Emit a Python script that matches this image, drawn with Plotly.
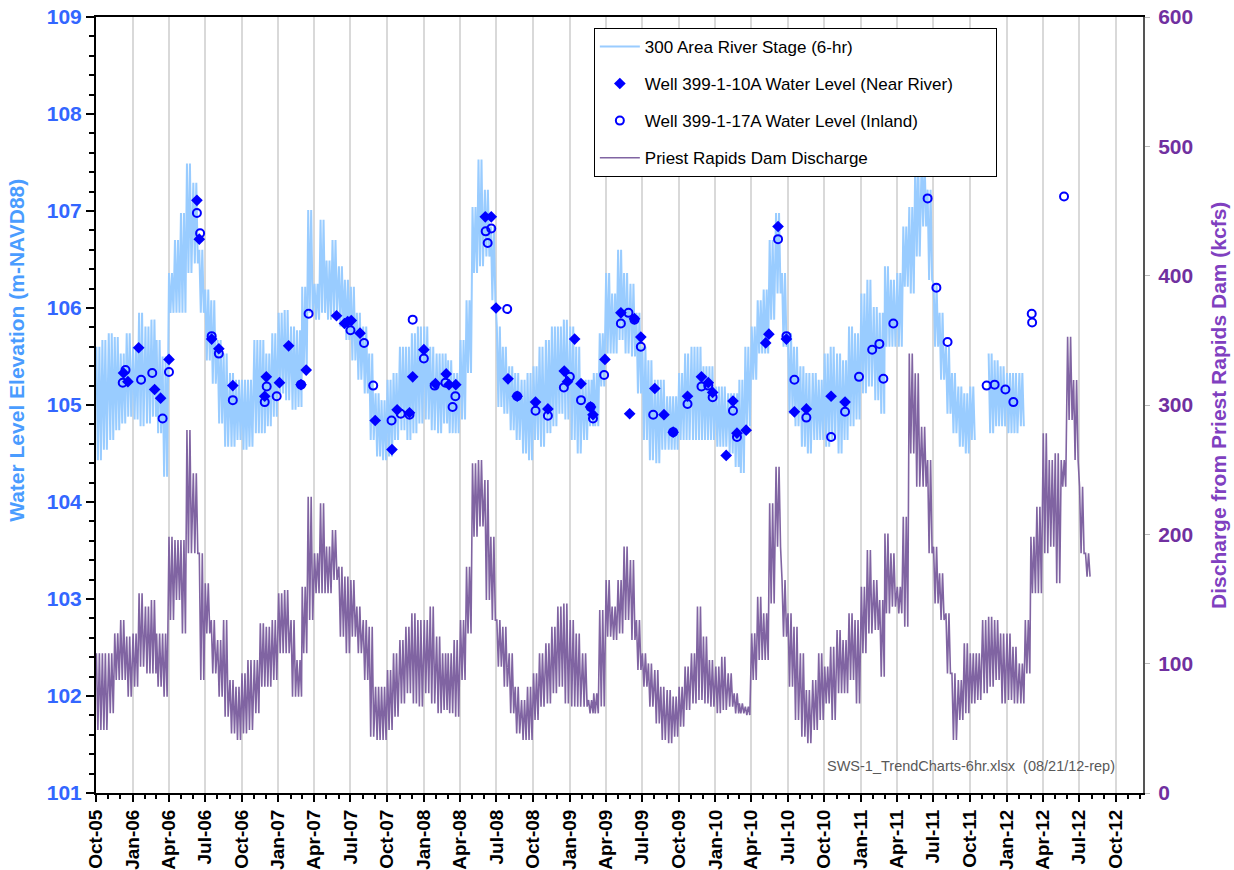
import pandas as pd
import plotly.graph_objects as go

# ---------------------------------------------------------------------------
# Data
# River stage and dam discharge are given as half-month envelopes (upper and
# lower values reached within each half month), starting October 2005.
# ---------------------------------------------------------------------------
stage_hi = [
    105.60, 105.67, 105.74, 105.70, 105.53, 105.74,
    105.60, 105.95, 105.81, 105.88, 105.67, 105.50, 106.36, 106.70, 106.98, 107.49, 107.29, 106.60,
    106.19, 106.08, 105.67, 105.53, 105.33, 105.26, 105.26, 105.26, 105.67, 105.67, 105.53, 105.74,
    105.95, 105.98, 105.81, 105.77, 106.22, 107.01, 106.25, 106.91, 106.49, 106.70, 106.43, 106.29,
    106.22, 105.95, 105.81, 105.53, 105.12, 105.05, 105.26, 105.33, 105.60, 105.60, 105.74, 105.81,
    105.81, 105.60, 105.53, 105.53, 105.46, 105.33, 105.67, 106.08, 107.04, 107.53, 107.22, 106.84,
    105.81, 105.60, 105.40, 105.33, 105.26, 105.33, 105.40, 105.60, 105.67, 105.81, 105.81, 105.88,
    105.81, 105.60, 105.26, 105.26, 105.33, 105.74, 106.36, 106.15, 106.60, 106.36, 106.25, 105.95,
    105.60, 105.46, 105.26, 105.26, 105.09, 105.09, 105.33, 105.53, 105.60, 105.60, 105.40, 105.40,
    105.19, 105.19, 105.12, 105.12, 105.26, 105.60, 105.81, 106.08, 106.19, 106.70, 106.98, 106.36,
    105.74, 105.60, 105.40, 105.33, 105.33, 105.26, 105.53, 105.60, 105.53, 105.46, 105.81, 105.74,
    106.15, 106.29, 106.01, 105.95, 106.43, 106.29, 106.36, 106.84, 107.04, 107.53, 107.53, 107.22,
    106.25, 105.95, 105.60, 105.33, 105.19, 105.12, 105.19, None, None, 105.53, 105.46, 105.40,
    105.33, 105.33, 105.33,
]
stage_lo = [
    104.43, 104.54, 104.64, 104.74, 104.81, 104.88,
    104.85, 104.78, 104.81, 104.88, 104.71, 104.26, 105.95, 105.95, 105.95, 106.36, 106.46, 105.95,
    105.46, 105.22, 104.81, 104.57, 104.57, 104.64, 104.54, 104.57, 104.71, 104.71, 104.78, 104.88,
    105.12, 105.05, 104.95, 104.98, 105.33, 105.95, 105.88, 105.95, 105.88, 105.95, 105.81, 105.67,
    105.46, 105.26, 105.12, 104.64, 104.47, 104.43, 104.47, 104.64, 104.74, 104.64, 104.71, 104.81,
    104.85, 104.74, 104.71, 104.81, 104.71, 104.71, 104.85, 105.33, 106.36, 106.43, 106.53, 106.08,
    104.98, 104.91, 104.74, 104.64, 104.50, 104.43, 104.64, 104.57, 104.71, 104.78, 104.91, 104.85,
    104.64, 104.50, 104.64, 104.78, 104.78, 105.19, 105.53, 105.53, 105.67, 105.53, 105.50, 105.12,
    104.64, 104.43, 104.40, 104.54, 104.54, 104.54, 104.64, 104.64, 104.64, 104.64, 104.64, 104.64,
    104.57, 104.57, 104.50, 104.36, 104.30, 104.78, 105.26, 105.53, 105.53, 105.88, 106.15, 105.60,
    104.91, 104.78, 104.57, 104.50, 104.64, 104.64, 104.57, 104.64, 104.50, 104.64, 104.78, 104.85,
    105.12, 105.19, 105.05, 104.91, 105.60, 105.60, 105.60, 106.22, 106.15, 106.53, 106.84, 106.29,
    105.60, 105.26, 104.91, 104.71, 104.57, 104.50, 104.64, None, None, 104.71, 104.78, 104.78,
    104.71, 104.71, 104.78,
]

discharge_hi = [
    108.0, 108.0, 108.0, 123.4, 133.7, 120.9,
    123.4, 154.4, 144.1, 149.2, 123.4, 123.4, 198.2, 195.6, 195.6, 280.7, 247.2, 185.3,
    162.1, 133.7, 118.3, 133.7, 87.4, 82.2, 92.5, 102.8, 102.8, 131.2, 128.6, 133.7,
    154.4, 156.9, 133.7, 102.8, 159.5, 229.1, 185.3, 224.0, 190.5, 203.3, 175.0, 167.3,
    164.7, 144.1, 133.7, 128.6, 82.2, 82.2, 95.1, 108.0, 118.3, 128.6, 138.9, 133.7,
    133.7, 144.1, 120.9, 108.0, 108.0, 118.3, 133.7, 175.0, 254.9, 257.5, 242.0, 198.2,
    133.7, 128.6, 108.0, 82.2, 71.9, 82.2, 92.5, 108.0, 115.7, 128.6, 144.1, 146.6,
    133.7, 123.4, 108.0, 71.9, 77.1, 141.5, 164.7, 144.1, 164.7, 190.5, 180.1, 133.7,
    108.0, 100.2, 95.1, 82.2, 79.6, 74.5, 82.2, 97.7, 108.0, 144.1, 120.9, 102.8,
    97.7, 105.4, 92.5, 77.1, 69.3, 66.8, 123.4, 151.8, 138.9, 224.0, 252.3, 164.7,
    138.9, 128.6, 108.0, 79.6, 87.4, 108.0, 97.7, 113.1, 126.0, 118.3, 138.9, 133.7,
    159.5, 187.9, 164.7, 149.2, 200.7, 185.3, 159.5, 213.6, 339.9, 324.5, 283.2, 257.5,
    190.4, 169.8, 138.9, 92.5, 87.4, 115.7, 108.0, 108.0, 133.7, 136.3, 133.7, 123.4,
    123.4, 113.1, 100.2, 133.7, 198.2, 221.4, 278.1, 257.5, 262.6, 257.5, 352.8, 319.3,
    236.8, 185.3,
]
discharge_lo = [
    48.7, 48.7, 61.6, 87.4, 87.4, 74.5,
    82.2, 97.7, 92.5, 92.5, 82.2, 74.5, 133.7, 149.2, 123.4, 185.3, 185.3, 87.4,
    123.4, 92.5, 74.5, 59.0, 46.1, 41.0, 46.1, 48.7, 61.6, 82.2, 82.2, 87.4,
    108.0, 108.0, 74.5, 74.5, 108.0, 133.7, 154.4, 154.4, 154.4, 164.7, 120.9, 108.0,
    120.9, 108.0, 87.4, 43.5, 41.0, 41.0, 48.7, 59.0, 69.3, 77.1, 69.3, 66.8,
    77.1, 69.3, 61.6, 64.2, 61.6, 59.0, 87.4, 123.4, 198.2, 206.0, 149.2, 133.7,
    97.7, 82.2, 61.6, 46.1, 41.0, 41.0, 56.4, 66.8, 69.3, 77.1, 82.2, 69.3,
    66.8, 66.8, 66.8, 61.6, 61.6, 66.8, 120.9, 118.3, 123.4, 133.7, 118.3, 95.1,
    82.2, 66.8, 53.8, 41.0, 38.4, 43.5, 51.3, 64.2, 69.3, 71.9, 69.3, 66.8,
    61.6, 64.2, 66.8, 61.6, 61.6, 60.3, 87.4, 102.8, 102.8, 146.6, 190.4, 120.9,
    82.2, 56.4, 43.5, 38.4, 48.7, 56.4, 69.3, 56.4, 77.1, 77.1, 87.4, 69.3,
    108.0, 123.4, 126.0, 89.9, 138.9, 144.1, 138.9, 128.6, 262.6, 236.8, 236.8, 185.3,
    146.6, 133.7, 92.5, 41.0, 56.4, 61.6, 69.3, 71.9, 77.1, 82.2, 87.4, 69.3,
    71.9, 69.3, 69.3, 92.5, 154.4, 154.4, 185.3, 190.4, 162.1, 236.8, 288.4, 257.5,
    185.3, 167.3,
]

well_10a_dates = [
    "2005-12-09", "2005-12-20", "2006-01-16", "2006-02-25", "2006-03-12", "2006-04-02",
    "2006-06-11", "2006-06-17", "2006-07-18", "2006-08-05", "2006-09-09", "2006-11-28",
    "2006-12-02", "2007-01-04", "2007-01-27", "2007-02-27", "2007-03-12", "2007-05-27",
    "2007-06-16", "2007-06-24", "2007-07-03", "2007-07-25", "2007-09-01", "2007-10-13",
    "2007-10-26", "2007-11-26", "2007-12-04", "2008-01-01", "2008-01-30", "2008-02-26",
    "2008-03-04", "2008-03-21", "2008-06-03", "2008-06-18", "2008-06-30", "2008-07-30",
    "2008-08-22", "2008-10-07", "2008-11-07", "2008-12-18", "2008-12-26", "2009-01-13",
    "2009-01-29", "2009-02-22", "2009-02-28", "2009-03-30", "2009-05-09", "2009-05-31",
    "2009-06-12", "2009-06-28", "2009-08-02", "2009-08-25", "2009-09-17", "2009-10-23",
    "2009-11-27", "2009-12-14", "2009-12-25", "2010-01-28", "2010-02-14", "2010-02-24",
    "2010-03-19", "2010-05-07", "2010-05-15", "2010-06-07", "2010-06-28", "2010-07-18",
    "2010-08-17", "2010-10-18", "2010-11-22",
]
well_10a_levels = [
    105.33, 105.24, 105.59, 105.16, 105.07, 105.47,
    107.11, 106.71, 105.68, 105.58, 105.20, 105.09,
    105.29, 105.23, 105.61, 105.21, 105.36, 105.92,
    105.84, 105.86, 105.87, 105.74, 104.84, 104.54,
    104.95, 104.92, 105.29, 105.57, 105.22, 105.32,
    105.21, 105.21, 106.94, 106.94, 106.00, 105.27,
    105.09, 105.03, 104.96, 105.35, 105.24, 105.68,
    105.22, 104.98, 104.90, 105.47, 105.95, 104.91,
    105.89, 105.70, 105.17, 104.90, 104.72, 105.09,
    105.29, 105.23, 105.13, 104.48, 105.04, 104.71,
    104.74, 105.64, 105.73, 106.84, 105.68, 104.93,
    104.96, 105.09, 105.03,
]

well_17a_dates = [
    "2005-12-07", "2005-12-14", "2006-01-22", "2006-02-19", "2006-03-17", "2006-04-02",
    "2006-06-11", "2006-06-19", "2006-07-18", "2006-08-05", "2006-09-09", "2006-11-28",
    "2006-12-03", "2006-12-28", "2007-02-27", "2007-03-18", "2007-07-01", "2007-08-04",
    "2007-08-27", "2007-10-12", "2007-11-04", "2007-11-26", "2007-12-04", "2008-01-01",
    "2008-01-28", "2008-02-24", "2008-03-13", "2008-03-20", "2008-06-04", "2008-06-09",
    "2008-06-18", "2008-07-28", "2008-08-22", "2008-10-07", "2008-11-07", "2008-12-17",
    "2009-01-01", "2009-01-29", "2009-02-22", "2009-02-28", "2009-03-28", "2009-05-09",
    "2009-05-28", "2009-06-12", "2009-06-28", "2009-07-29", "2009-09-17", "2009-10-23",
    "2009-11-27", "2009-12-14", "2009-12-25", "2010-02-14", "2010-02-24", "2010-06-07",
    "2010-06-28", "2010-07-18", "2010-08-17", "2010-10-18", "2010-11-22", "2010-12-27",
    "2011-01-29", "2011-02-16", "2011-02-26", "2011-03-23", "2011-06-17", "2011-07-09",
    "2011-08-06", "2011-11-12", "2011-12-02", "2011-12-29", "2012-01-18", "2012-03-04",
    "2012-03-05", "2012-05-24",
]
well_17a_levels = [
    105.23, 105.36, 105.26, 105.33, 104.86, 105.34,
    106.98, 106.77, 105.71, 105.53, 105.05, 105.03,
    105.19, 105.09, 105.21, 105.94, 105.77, 105.64,
    105.20, 104.84, 104.91, 104.90, 105.88, 105.48,
    105.20, 105.23, 104.98, 105.09, 106.79, 106.67,
    106.82, 105.99, 105.09, 104.94, 104.89, 105.18,
    105.29, 105.05, 104.98, 104.86, 105.31, 105.84,
    105.95, 105.88, 105.60, 104.90, 104.72, 105.01,
    105.19, 105.20, 105.08, 104.94, 104.67, 106.71,
    105.71, 105.26, 104.87, 104.67, 104.93, 105.29,
    105.57, 105.63, 105.27, 105.84, 107.13, 106.21,
    105.65, 105.20, 105.21, 105.16, 105.03, 105.94,
    105.85, 107.15,
]

source_note = "SWS-1_TrendCharts-6hr.xlsx  (08/21/12-rep)"
left_title = "Water Level Elevation (m-NAVD88)"
right_title = "Discharge from Priest Rapids Dam (kcfs)"


def half_month_starts(year, month, count):
    """Window start dates: the 1st and the 16th of each month."""
    out = []
    for k in range(count):
        out.append(pd.Timestamp(year=year, month=month, day=1 if k % 2 == 0 else 16))
        if k % 2 == 1:
            month += 1
            if month > 12:
                month, year = 1, year + 1
    return out


# Within each half month the trace swings between the window's upper and
# lower values a few times, which reproduces the dense 6-hour oscillation.
SWING_DAYS = [1.0, 4.75, 8.5, 12.25]


def swing_trace(starts, hi, lo):
    xs, ys = [], []
    for t, h, l in zip(starts, hi, lo):
        if h is None or l is None:
            xs.append(None)
            ys.append(None)
            continue
        for k, d in enumerate(SWING_DAYS):
            xs.append(t + pd.Timedelta(days=d))
            ys.append(h if k % 2 == 0 else l)
    return xs, ys


stage_x, stage_y = swing_trace(half_month_starts(2005, 10, len(stage_hi)), stage_hi, stage_lo)
dis_x, dis_y = swing_trace(half_month_starts(2005, 10, len(discharge_hi)), discharge_hi, discharge_lo)

FONT = "Liberation Sans, Arial, sans-serif"
STAGE_COLOR = "#99ccff"
DISCHARGE_COLOR = "#8064a2"
WELL_COLOR = "#0000ff"
NBSP = "\u00a0"

fig = go.Figure()

fig.add_trace(go.Scatter(
    x=stage_x, y=stage_y, mode="lines", name="300 Area River Stage (6-hr)",
    line=dict(color=STAGE_COLOR, width=2.0), connectgaps=False, legendgroup="a",
))
fig.add_trace(go.Scatter(
    x=well_10a_dates, y=well_10a_levels, mode="markers",
    name="Well 399-1-10A Water Level (Near River)" + NBSP * 8,
    marker=dict(symbol="diamond", size=9, color=WELL_COLOR), legendgroup="b",
))
fig.add_trace(go.Scatter(
    x=well_17a_dates, y=well_17a_levels, mode="markers",
    name="Well 399-1-17A Water Level (Inland)",
    marker=dict(symbol="circle-open", size=8, color=WELL_COLOR, line=dict(width=2, color=WELL_COLOR)),
    legendgroup="c",
))
fig.add_trace(go.Scatter(
    x=dis_x, y=dis_y, mode="lines", name="Priest Rapids Dam Discharge",
    line=dict(color=DISCHARGE_COLOR, width=1.6), connectgaps=False,
    yaxis="y2", legendgroup="d",
))

fig.update_layout(
    width=1234, height=870,
    margin=dict(l=96, r=91, t=17, b=77),
    paper_bgcolor="white", plot_bgcolor="white",
    font=dict(family=FONT, color="black"),
    showlegend=True,
    legend=dict(
        x=0.4755, y=0.986, xanchor="left", yanchor="top",
        bgcolor="white", bordercolor="black", borderwidth=1,
        font=dict(family=FONT, size=17, color="black"),
        tracegroupgap=12, itemwidth=40,
    ),
    xaxis=dict(
        type="date", range=["2005-10-01", "2012-12-08"], automargin=False,
        tick0="2005-10-01", dtick="M3", tickformat="%b-%y", tickangle=-90,
        tickfont=dict(family=FONT, size=19, color="black", weight="bold"),
        ticks="outside", ticklen=7, tickwidth=1.5, tickcolor="black",
        showgrid=True, gridcolor="#d9d9d9", gridwidth=1.5,
        showline=True, linecolor="black", linewidth=2, mirror=True,
        zeroline=False,
        minor=dict(tick0="2005-10-01", dtick="M1", ticks="outside", ticklen=4,
                   tickcolor="black", showgrid=False),
    ),
    yaxis=dict(
        range=[101, 109], dtick=1, tick0=101, automargin=False,
        tickfont=dict(family=FONT, size=21, color="#3366ff", weight="bold"),
        ticks="outside", ticklen=8, tickwidth=2, tickcolor="black",
        showline=True, linecolor="black", linewidth=2,
        showgrid=False, zeroline=False,
        minor=dict(dtick=0.2, ticks="outside", ticklen=5, tickcolor="black"),
    ),
    yaxis2=dict(
        overlaying="y", side="right", range=[0, 600], dtick=100, tick0=0, automargin=False,
        tickfont=dict(family=FONT, size=21, color="#7030a0", weight="bold"),
        ticks="outside", ticklen=5, tickwidth=1, tickcolor="#bbbbbb",
        ticklabelstandoff=4,
        showline=True, linecolor="#555555", linewidth=2,
        showgrid=False, zeroline=False,
    ),
    annotations=[
        dict(text=source_note, xref="paper", yref="paper", x=0.975, y=0.0348,
             xanchor="right", yanchor="middle", showarrow=False,
             font=dict(family=FONT, size=14.5, color="#595959")),
        dict(text=left_title, xref="paper", yref="paper", x=-0.0755, y=0.571,
             xanchor="center", yanchor="middle", textangle=-90, showarrow=False,
             font=dict(family=FONT, size=21, color="#4a9cff", weight="bold")),
        dict(text=right_title, xref="paper", yref="paper", x=1.0716, y=0.5,
             xanchor="center", yanchor="middle", textangle=-90, showarrow=False,
             font=dict(family=FONT, size=21, color="#8040c0", weight="bold")),
    ],
)

fig.write_html("out.html")
